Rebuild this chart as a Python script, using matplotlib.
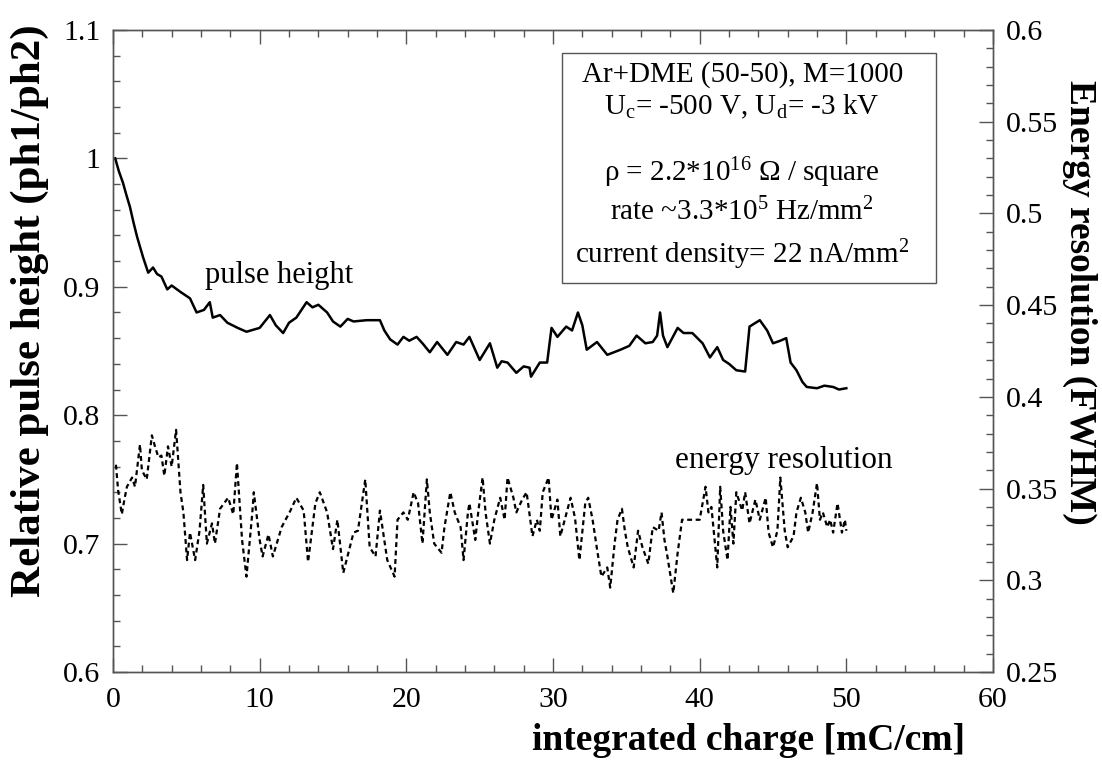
import numpy as np
import matplotlib
matplotlib.use("Agg")
import matplotlib.pyplot as plt
from matplotlib.ticker import MultipleLocator, FormatStrFormatter

plt.rcParams['font.family'] = ['Liberation Serif', 'DejaVu Serif']
plt.rcParams['mathtext.fontset'] = 'custom'
plt.rcParams['mathtext.rm'] = 'Liberation Serif'
plt.rcParams['mathtext.it'] = 'Liberation Serif:italic'
plt.rcParams['mathtext.bf'] = 'Liberation Serif:bold'

# relative pulse height (left axis)
ph_x = [0.15, 0.4, 0.68, 0.9, 1.16, 1.4, 1.64, 2.05, 2.4, 2.73, 3.0, 3.3, 3.7, 4.0,
        4.6, 5.25, 5.7, 6.2, 6.6, 6.8, 7.3, 7.8, 8.5, 9.1, 10.0, 10.7, 11.1, 11.6,
        12.0, 12.5, 13.2, 13.6, 14.0, 14.6, 15.0, 15.5, 16.0, 16.4, 17.3, 18.2,
        18.5, 18.9, 19.4, 19.8, 20.2, 20.7, 21.1, 21.6, 22.1, 22.8, 23.4, 23.9,
        24.3, 25.0, 25.7, 26.2, 26.5, 26.9, 27.5, 28.0, 28.4, 28.5, 29.1, 29.6,
        29.9, 30.3, 30.9, 31.3, 31.7, 32.0, 32.3, 33.0, 33.7, 34.6, 35.2, 35.7,
        36.3, 36.8, 37.1, 37.3, 37.5, 37.8, 38.5, 38.9, 39.5, 40.2, 40.7, 41.2,
        41.6, 42.0, 42.5, 43.1, 43.4, 44.1, 44.6, 45.0, 45.5, 45.9, 46.2, 46.6,
        47.0, 47.3, 48.0, 48.5, 49.1, 49.5, 50.0]
ph_y = [1.000, 0.990, 0.981, 0.972, 0.962, 0.950, 0.939, 0.923, 0.911, 0.915, 0.910,
        0.908, 0.898, 0.901, 0.896, 0.891, 0.880, 0.882, 0.888, 0.876, 0.878, 0.872,
        0.868, 0.865, 0.868, 0.878, 0.870, 0.864, 0.872, 0.876, 0.888, 0.884, 0.886,
        0.880, 0.873, 0.869, 0.875, 0.873, 0.874, 0.874, 0.866, 0.859, 0.855, 0.861,
        0.858, 0.861, 0.856, 0.849, 0.857, 0.847, 0.857, 0.855, 0.861, 0.843, 0.856,
        0.837, 0.842, 0.841, 0.833, 0.838, 0.837, 0.830, 0.841, 0.841, 0.868, 0.861,
        0.869, 0.866, 0.880, 0.870, 0.851, 0.857, 0.847, 0.851, 0.854, 0.862, 0.856,
        0.857, 0.862, 0.880, 0.862, 0.853, 0.868, 0.864, 0.864, 0.856, 0.845, 0.853,
        0.843, 0.840, 0.835, 0.834, 0.869, 0.874, 0.866, 0.856, 0.858, 0.860, 0.841,
        0.835, 0.826, 0.822, 0.821, 0.823, 0.822, 0.820, 0.821]

# energy resolution FWHM (right axis)
er_x = [0.2, 0.35, 0.6, 0.8, 0.95, 1.3, 1.5, 1.84, 1.97, 2.3, 2.65, 2.86, 3.1, 3.3,
        3.5, 3.75, 4.0, 4.3, 4.4, 4.6, 4.8, 5.05, 5.25, 5.6, 5.9, 6.15, 6.4, 6.75,
        6.95, 7.3, 7.85, 8.2, 8.45, 8.8, 9.1, 9.5, 9.6, 10.0, 10.2, 10.6, 10.9,
        11.5, 12.1, 12.5, 13.0, 13.3, 13.8, 14.1, 14.6, 15.0, 15.3, 15.7, 16.4,
        16.7, 17.2, 17.5, 17.9, 18.2, 18.7, 19.2, 19.4, 19.8, 20.1, 20.5, 20.8,
        21.1, 21.4, 21.6, 21.9, 22.4, 22.6, 23.0, 23.3, 23.7, 23.9, 24.2, 24.3,
        24.7, 24.9, 25.2, 25.4, 25.7, 26.0, 26.4, 26.7, 26.9, 27.3, 27.5, 27.9,
        28.2, 28.6, 28.9, 29.1, 29.3, 29.7, 29.9, 30.3, 30.5, 30.8, 31.2, 31.5,
        31.8, 32.2, 32.4, 32.7, 33.0, 33.3, 33.7, 33.9, 34.2, 34.4, 34.7, 34.9,
        35.1, 35.5, 35.8, 36.1, 36.5, 36.8, 37.2, 37.4, 37.6, 37.8, 38.2, 38.5,
        38.8, 40.0, 40.4, 40.6, 40.8, 41.2, 41.4, 41.6, 41.9, 42.1, 42.3, 42.5,
        42.9, 43.1, 43.4, 43.8, 44.1, 44.5, 44.7, 45.0, 45.3, 45.5, 45.8, 46.0,
        46.4, 46.6, 46.9, 47.2, 47.4, 47.7, 48.0, 48.2, 48.4, 48.7, 48.9, 49.1,
        49.4, 49.7, 49.9, 50.0]
er_y = [0.363, 0.349, 0.336, 0.345, 0.351, 0.356, 0.351, 0.374, 0.360, 0.355, 0.379,
        0.373, 0.367, 0.368, 0.357, 0.373, 0.362, 0.382, 0.371, 0.348, 0.337, 0.311,
        0.326, 0.311, 0.327, 0.352, 0.320, 0.331, 0.320, 0.339, 0.345, 0.336, 0.364,
        0.322, 0.302, 0.337, 0.348, 0.322, 0.313, 0.325, 0.313, 0.329, 0.338, 0.345,
        0.338, 0.310, 0.342, 0.348, 0.337, 0.317, 0.333, 0.304, 0.326, 0.327, 0.355,
        0.318, 0.313, 0.338, 0.311, 0.302, 0.333, 0.337, 0.333, 0.348, 0.342, 0.320,
        0.355, 0.337, 0.320, 0.315, 0.329, 0.348, 0.337, 0.329, 0.311, 0.337, 0.342,
        0.322, 0.337, 0.356, 0.337, 0.320, 0.333, 0.345, 0.333, 0.356, 0.345, 0.337,
        0.344, 0.348, 0.324, 0.333, 0.327, 0.348, 0.356, 0.333, 0.344, 0.324, 0.333,
        0.345, 0.334, 0.311, 0.342, 0.345, 0.333, 0.317, 0.302, 0.307, 0.296, 0.320,
        0.333, 0.339, 0.327, 0.318, 0.307, 0.327, 0.318, 0.309, 0.329, 0.327, 0.337,
        0.322, 0.313, 0.293, 0.315, 0.333, 0.333, 0.351, 0.337, 0.340, 0.307, 0.351,
        0.327, 0.311, 0.340, 0.320, 0.348, 0.338, 0.348, 0.331, 0.344, 0.333, 0.345,
        0.326, 0.318, 0.327, 0.356, 0.327, 0.318, 0.324, 0.337, 0.345, 0.337, 0.326,
        0.337, 0.353, 0.333, 0.337, 0.329, 0.333, 0.326, 0.342, 0.326, 0.333, 0.327]

info_lines = ["Ar+DME (50-50), M=1000",
              "U$_{\\mathrm{c}}$= -500 V, U$_{\\mathrm{d}}$= -3 kV",
              "\u03c1 = 2.2*10$^{16}$ \u03a9 / square",
              "rate ~3.3*10$^{5}$ Hz/mm$^{2}$",
              "current density= 22 nA/mm$^{2}$"]
info_y = [1.065, 1.040, 0.989, 0.958, 0.925]

W, H = 1102, 762
fig = plt.figure(figsize=(W / 100, H / 100), dpi=100)
ax = fig.add_axes([113 / W, 1 - 672 / H, 880 / W, 642 / H])
ax2 = ax.twinx()

ax.plot(ph_x, ph_y, color='black', lw=1.8)
ax2.plot(er_x, er_y, color='black', lw=1.6, ls=(0, (2.2, 1.6)))

ax.set_xlim(0, 60)
ax.set_ylim(0.6, 1.1)
ax2.set_ylim(0.25, 0.6)

spine_col = '#555555'
for a in (ax, ax2):
    for s in a.spines.values():
        s.set_color(spine_col)
        s.set_linewidth(1.0)

ax.xaxis.set_major_locator(MultipleLocator(10))
ax.xaxis.set_minor_locator(MultipleLocator(2))
ax.yaxis.set_major_locator(MultipleLocator(0.1))
ax.yaxis.set_minor_locator(MultipleLocator(0.02))
ax2.yaxis.set_major_locator(MultipleLocator(0.05))
ax2.yaxis.set_minor_locator(MultipleLocator(0.01))
ax.xaxis.set_major_formatter(FormatStrFormatter('%g'))
ax.yaxis.set_major_formatter(FormatStrFormatter('%g'))
ax2.yaxis.set_major_formatter(FormatStrFormatter('%g'))

ax.tick_params(which='both', direction='in', top=True, right=False,
               color=spine_col, labelsize=21.5)
ax.tick_params(which='major', length=10, width=1.0)
ax.tick_params(which='minor', length=5, width=1.0)
ax.tick_params(axis='x', pad=11)
ax.tick_params(axis='y', pad=9)
ax2.tick_params(which='both', direction='in', color=spine_col, labelsize=21.5, pad=9)
ax2.tick_params(which='major', length=10, width=1.0)
ax2.tick_params(which='minor', length=5, width=1.0)

fig.text(965 / W, 1 - 740 / H, "integrated charge [mC/cm]", ha='right', va='center',
         fontsize=27, fontweight='bold')
fig.text(30 / W, 1 - 311 / H, "Relative pulse height (ph1/ph2)", ha='center',
         va='center', rotation=90, fontsize=31, fontweight='bold')
fig.text(1080 / W, 1 - 302 / H, "Energy resolution (FWHM)", ha='center',
         va='center', rotation=-90, fontsize=27, fontweight='bold')

# info box
ax.add_patch(plt.Rectangle((30.6, 0.903), 25.5, 0.179, fill=False,
                           edgecolor=spine_col, lw=1.0))
for t, yy in zip(info_lines, info_y):
    ax.text(42.9, yy, t, ha='center', va='center', fontsize=21)

ax.text(11.3, 0.903, "pulse height", ha='center', va='baseline', fontsize=22)
ax.text(45.75, 0.759, "energy resolution", ha='center', va='baseline', fontsize=22.5)

fig.savefig("out.png", dpi=100)
